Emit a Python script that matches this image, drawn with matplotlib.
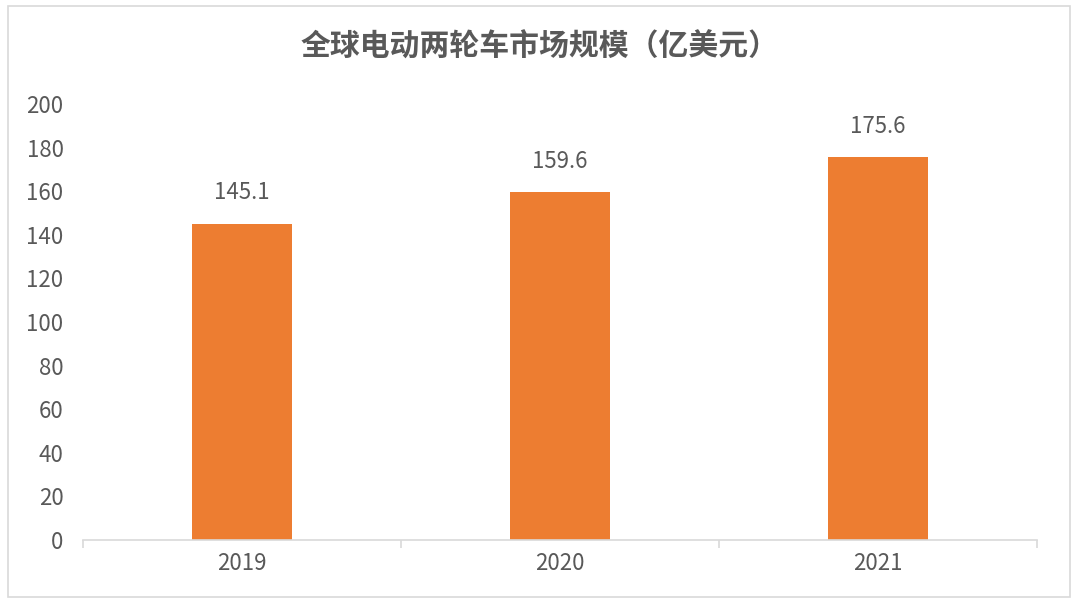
import matplotlib.pyplot as plt
from matplotlib.patches import Rectangle

plt.rcParams['font.family'] = ['Noto Sans CJK SC', 'DejaVu Sans']

years = ['2019', '2020', '2021']
sizes = [145.1, 159.6, 175.6]
yticks = list(range(0, 201, 20))

text_color = '#595959'
bar_color = '#ED7D31'
line_color = '#D9D9D9'
num_size = 16

fig = plt.figure(figsize=(10.8, 6.06), dpi=100)
ax = fig.add_axes([83 / 1080, 1 - 540 / 606, 954 / 1080, 436 / 606])

# frame round the whole chart
fig.patches.append(Rectangle((8 / 1080, 1 - 597 / 606), 1062 / 1080, 591 / 606,
                             transform=fig.transFigure, fill=False,
                             edgecolor=line_color, linewidth=1.2))

x = range(len(years))
bars = ax.bar(x, sizes, width=0.315, color=bar_color)
for b, v in zip(bars, sizes):
    ax.annotate(f'{v}', (b.get_x() + b.get_width() / 2, v), xytext=(0, 14),
                textcoords='offset points', ha='center', va='bottom',
                fontsize=num_size, color=text_color)

ax.set_xlim(-0.5, 2.5)
ax.set_ylim(0, 200)
ax.set_yticks(yticks)
ax.set_yticklabels([str(t) for t in yticks], fontsize=num_size, color=text_color)
ax.tick_params(axis='y', length=0, pad=14)

ax.set_xticks(list(x))
ax.set_xticklabels(years, fontsize=num_size, color=text_color)
ax.set_xticks([-0.5, 0.5, 1.5, 2.5], minor=True)
ax.tick_params(axis='x', which='major', length=0, pad=9)
ax.tick_params(axis='x', which='minor', length=6, color=line_color, width=1.2)

for s in ['top', 'right', 'left']:
    ax.spines[s].set_visible(False)
ax.spines['bottom'].set_color(line_color)
ax.spines['bottom'].set_linewidth(1.2)

fig.text(0.5, 1 - 47 / 606, '全球电动两轮车市场规模（亿美元）', ha='center', va='center',
         fontsize=21.5, fontweight='bold', color=text_color)

fig.savefig('out.png', dpi=100)
